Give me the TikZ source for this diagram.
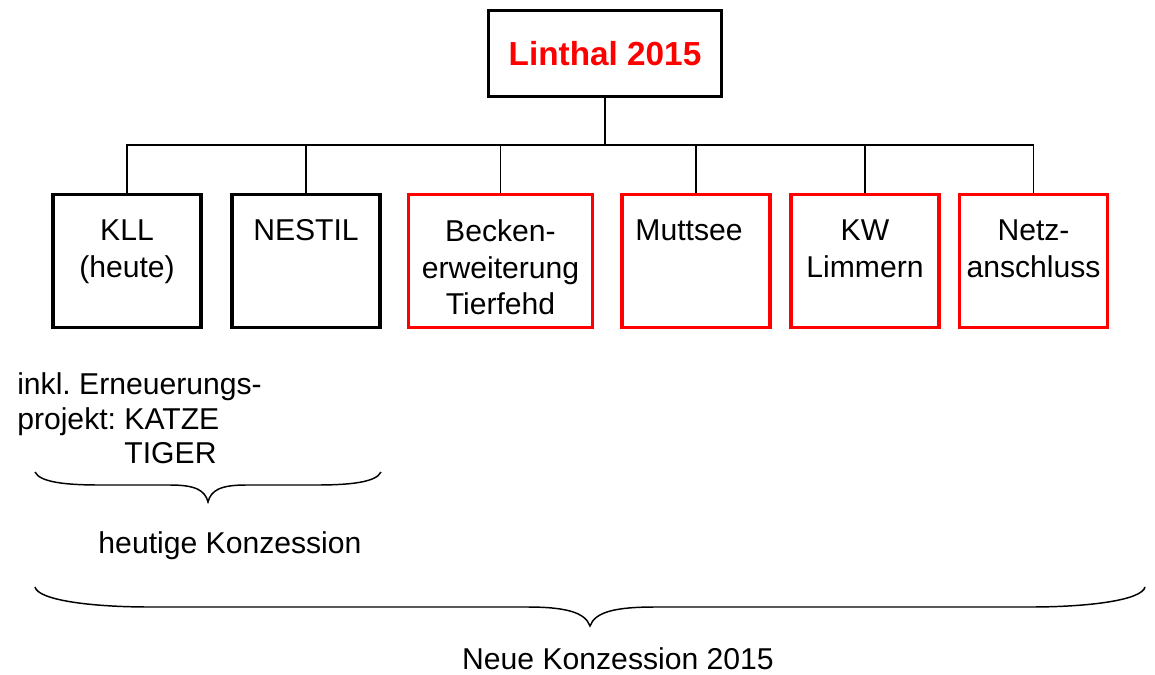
\documentclass[tikz,border=0pt]{standalone}
\usepackage{fontspec}
\setmainfont{Liberation Sans}
\definecolor{pred}{RGB}{255,0,0}
\frenchspacing
\begin{document}
\begin{tikzpicture}[x=0.75pt,y=-0.75pt,
  boxblk/.style={draw=black,line width=2.6pt,minimum width=111pt,minimum height=99.75pt,inner sep=0pt},
  boxred/.style={draw=pred,line width=2.6pt,minimum width=111pt,minimum height=99.75pt,inner sep=0pt},
  conn/.style={draw=black,line width=0.8pt},
  brace/.style={draw=black,line width=1.1pt},
  txt/.style={inner sep=0pt,align=center,font=\fontsize{22.6pt}{27.4pt}\selectfont},
  ltxt/.style={inner sep=0pt,align=left,font=\fontsize{22.6pt}{25.8pt}\selectfont}]
\useasboundingbox (0,0) rectangle (1155,674);
% top box
\node[draw=black,line width=2.6pt,minimum width=174.75pt,minimum height=64.5pt,inner sep=0pt] (top) at (605,53.5) {};
\node[inner sep=0pt,anchor=base,text=pred,font=\bfseries\fontsize{25pt}{28pt}\selectfont] (title) at (605,65) {Linthal 2015};
% boxes
\node[boxblk] (kll) at (127,261) {};
\node[boxblk] (nestil) at (306,261) {};
\node[boxred,minimum width=138pt] (becken) at (500.5,261) {};
\node[boxred] (mutt) at (696,261) {};
\node[boxred] (kw) at (865,261) {};
\node[boxred] (netz) at (1033.5,261) {};
% box texts
\node[txt,anchor=north] (tkll) at (127,219.6) {KLL\\(heute)};
\node[txt,anchor=north] (tnestil) at (306,219.6) {NESTIL};
\node[txt,anchor=north] (tbecken) at (500.5,219.6) {Becken-\\erweiterung\\Tierfehd};
\node[txt,anchor=north] (tmutt) at (689,219.6) {Muttsee};
\node[txt,anchor=north] (tkw) at (865,219.6) {KW\\Limmern};
\node[txt,anchor=north] (tnetz) at (1033.5,219.6) {Netz-\\anschluss};
% connectors
\coordinate (bus) at (605,145);
\draw[conn] (top.south) -- (top.south |- bus);
\foreach \b in {kll,nestil,becken,mutt,kw,netz}
  \draw[conn] (\b.north) |- (top.south |- bus);
% lower left text
\node[ltxt,anchor=north west] (inkl) at (17,372.6) {inkl. Erneuerungs-\\projekt: KATZE\\\phantom{projekt:\ }TIGER};
% small brace
\draw[brace] (35,472) .. controls (40,483) and (70,485) .. (100,485) -- (170,485)
  .. controls (195,485) and (205,490) .. (208,502)
  .. controls (211,490) and (221,485) .. (246,485) -- (316,485)
  .. controls (346,485) and (376,483) .. (381,472);
\node[txt,anchor=base] (heut) at (230,553) {heutige Konzession};
% big brace
\draw[brace] (35,587) .. controls (38,600) and (90,607) .. (150,607) -- (527,607)
  .. controls (565,607) and (585,612) .. (590,626)
  .. controls (595,612) and (615,607) .. (655,607) -- (1030,607)
  .. controls (1090,607) and (1142,600) .. (1145,587);
\node[txt,anchor=base] (neue) at (618,669) {Neue Konzession 2015};
\end{tikzpicture}
\end{document}
